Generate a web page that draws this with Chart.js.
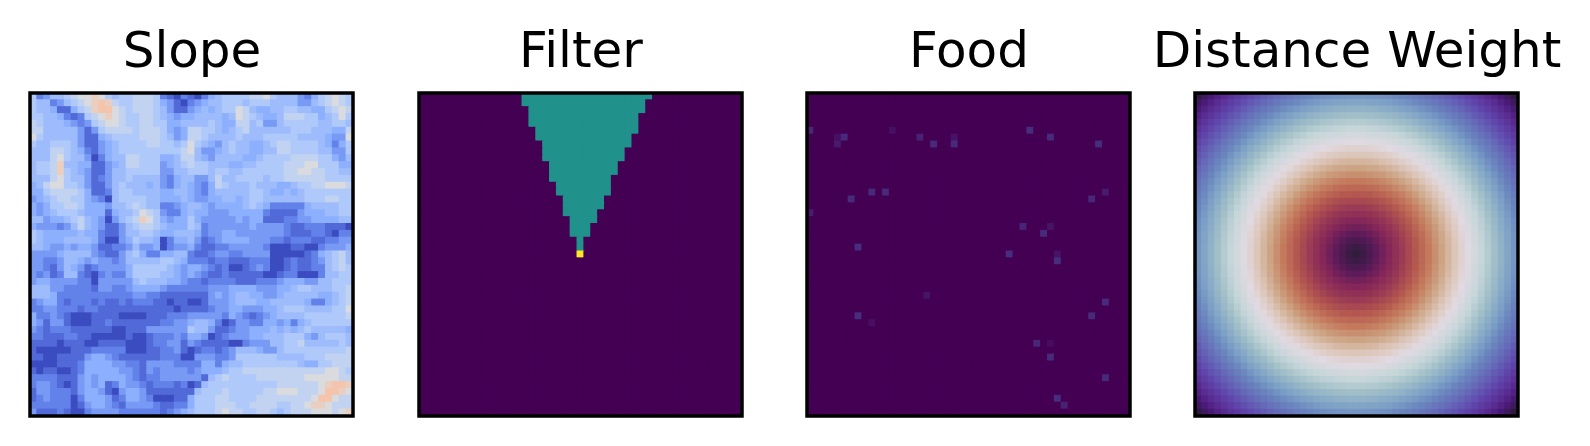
<!DOCTYPE html>
<html>
<head>
<meta charset="utf-8">
<style>
    html, body { margin: 0; padding: 0; background: #fff; overflow: hidden; width: 1590px; height: 446px; }
    .panel { position: absolute; top: 0; width: 420px; height: 446px; }
</style>
<script src="https://cdn.jsdelivr.net/npm/chart.js@4/dist/chart.umd.js"></script>
</head>
<body>
<div class="panel" style="left:-18px"><canvas id="chartSlope"></canvas></div>
<div class="panel" style="left:371px"><canvas id="chartFilter"></canvas></div>
<div class="panel" style="left:759px"><canvas id="chartFood"></canvas></div>
<div class="panel" style="left:1147px"><canvas id="chartDistance"></canvas></div>
<script>
const titles = ['Slope', 'Filter', 'Food', 'Distance Weight'];

// slope shading, 47 rows x 47 columns, hex index into slopeLevels
const slopeRows = [
    '62355 67889 86566 77762 102 10245 66667 78655 53246 7876',
    '65523 56789 a9766 77764 310 23455 66656 66555 53356 7876',
    '65541 14679 aa876 77765 311 34545 66875 44556 65544 6787',
    '66554 21267 89876 67765 434 45555 45876 54457 77664 5686',
    '76555 43236 78876 67766 445 55565 44775 63356 66665 5665',
    '77555 55313 67777 67776 434 77665 45675 55555 66655 5447',
    '86555 55311 45666 67776 534 77655 55655 56666 65555 4338',
    '65566 65311 34566 66776 656 86543 56554 45677 66665 4246',
    '55577 65421 34566 66666 667 85334 56554 45577 66665 5336',
    '55578 65530 24557 76664 457 75435 55544 56666 77776 6435',
    '56679 55441 13457 76663 456 76655 54455 66667 77886 6644',
    '56679 65431 13556 66663 355 66656 65566 66667 78877 6655',
    '55578 65531 23556 55553 245 53357 55666 65667 77777 6666',
    '45788 66531 13565 55453 245 43247 65556 55544 56677 8887',
    '44677 77641 12566 55554 455 43245 55556 65445 45666 6666',
    '34567 76643 20566 66554 445 43344 55456 65555 55666 7766',
    '43466 77644 43556 76552 234 55434 44456 54222 22455 5566',
    '43456 66544 41455 68763 224 54433 34444 42111 13444 5566',
    '55344 56754 30356 79864 344 64333 33434 41112 23344 4455',
    '43332 35754 31135 67765 444 65233 33334 33332 11222 1110',
    '65444 44544 21135 56654 455 54233 44333 33332 11122 1022',
    '65444 55554 20034 65540 244 53123 44443 33221 22211 2233',
    '55433 43443 11223 53340 233 42112 23333 32000 11002 3334',
    '33334 55553 21135 64224 455 21123 32233 33000 00124 5675',
    '33223 55434 33235 55556 654 22212 21112 22001 21123 5675',
    '33213 54312 33334 66666 543 44321 20012 32001 21122 5676',
    '32312 55210 23224 66665 543 43211 21111 10012 20002 5566',
    '34433 33220 33333 56555 443 22122 22111 22234 44335 5666',
    '55533 22221 33223 44443 222 22233 34444 33344 56655 5667',
    '55542 22222 22222 33221 111 11134 34554 43345 55554 4567',
    '23442 12221 21121 22211 011 00133 34555 44555 55422 4567',
    '22332 22122 11111 11111 101 11123 34433 34456 66555 5668',
    '42232 10001 11100 00111 222 33333 24321 23455 55666 6667',
    '43133 10001 12111 11112 233 45542 01332 24434 24566 6666',
    '32122 21111 11001 11333 333 65531 12334 44545 45655 5554',
    '22111 22110 00001 00122 232 44301 23334 45556 66435 6665',
    '11110 11100 11110 00122 331 32111 10023 33556 67555 5565',
    '10000 01112 22220 00112 231 01221 23555 43356 66666 6667',
    '11001 11134 43211 11112 220 03332 23666 66655 55666 7777',
    '00001 11244 44332 21333 322 22442 45566 66666 65446 6777',
    '10110 01244 44433 21323 333 23444 56677 77777 77777 8876',
    '22221 11343 44443 21223 333 33156 76666 77777 77888 8877',
    '23321 01343 41243 32122 212 01566 66666 66677 77778 9aa9',
    '13322 21344 31034 43111 111 15666 76666 67788 87778 aa98',
    '12322 20244 43124 43200 011 46667 76666 77777 7778a a877',
    '22222 20134 43213 33321 122 46667 77667 77766 77899 8777',
    '31112 10023 33322 22221 234 56667 87766 77656 77788 8789'
];
const slopeLevels = [0, 0.07, 0.125, 0.19, 0.25, 0.3, 0.35, 0.41, 0.49, 0.57, 0.625];

// view cone: first and one-past-last lit column of each row from the top
const filterStart = [15, 15, 16, 16, 16, 17, 17, 18, 18, 18, 19, 19, 19, 20, 20, 21, 21, 21, 22, 22, 22, 23, 23];
const filterEnd = [34, 33, 33, 32, 32, 32, 31, 31, 30, 30, 29, 29, 28, 28, 28, 27, 27, 26, 26, 25, 25, 24, 24];
const agentCol = 23;
const agentRow = 23;

// food cells that differ from the background
const foodCols = [0, 4, 5, 4, 12, 16, 18, 21, 21, 9, 11, 6, 0, 7, 32, 35, 42, 43, 41, 31, 35, 34, 29, 36, 36, 43, 41, 33, 35, 35, 43, 36, 37, 17, 7, 9];
const foodRows = [5, 6, 6, 7, 5, 6, 7, 6, 7, 14, 14, 15, 17, 22, 5, 6, 7, 14, 15, 19, 19, 20, 23, 23, 24, 30, 32, 36, 36, 38, 41, 44, 45, 29, 32, 33];
const foodValues = [0.11, 0.04, 0.12, 0.07, 0.04, 0.09, 0.12, 0.05, 0.12, 0.12, 0.12, 0.12, 0.08, 0.13, 0.13, 0.12, 0.13, 0.07, 0.11, 0.1, 0.05, 0.12, 0.13, 0.05, 0.13, 0.12, 0.12, 0.11, 0.03, 0.12, 0.12, 0.13, 0.09, 0.05, 0.13, 0.04];
const foodSize = 47;

// distance weight levels, one quarter of the square from the centre out
const distanceQuarter = [
    [0, 1, 2, 3, 4, 5, 6, 7, 8, 9, 10, 11, 12, 13, 14, 15, 16, 17, 18, 19, 20, 21, 22, 23, 24],
    [1, 1.4, 2.2, 3.2, 4.1, 5.1, 6.1, 7.1, 8.1, 9.1, 10, 11, 12, 13, 14, 15, 16, 17, 18, 19, 20, 21, 22, 23, 24],
    [2, 2.2, 2.8, 3.6, 4.5, 5.4, 6.3, 7.3, 8.2, 9.2, 10.2, 11.2, 12.2, 13.2, 14.1, 15.1, 16.1, 17.1, 18.1, 19.1, 20.1, 21.1, 22.1, 23.1, 24.1],
    [3, 3.2, 3.6, 4.2, 5, 5.8, 6.7, 7.6, 8.5, 9.5, 10.4, 11.4, 12.4, 13.3, 14.3, 15.3, 16.3, 17.3, 18.2, 19.2, 20.2, 21.2, 22.2, 23.2, 24.2],
    [4, 4.1, 4.5, 5, 5.7, 6.4, 7.2, 8.1, 8.9, 9.8, 10.8, 11.7, 12.6, 13.6, 14.6, 15.5, 16.5, 17.5, 18.4, 19.4, 20.4, 21.4, 22.4, 23.3, 24.3],
    [5, 5.1, 5.4, 5.8, 6.4, 7.1, 7.8, 8.6, 9.4, 10.3, 11.2, 12.1, 13, 13.9, 14.9, 15.8, 16.8, 17.7, 18.7, 19.6, 20.6, 21.6, 22.6, 23.5, 24.5],
    [6, 6.1, 6.3, 6.7, 7.2, 7.8, 8.5, 9.2, 10, 10.8, 11.7, 12.5, 13.4, 14.3, 15.2, 16.2, 17.1, 18, 19, 19.9, 20.9, 21.8, 22.8, 23.8, 24.7],
    [7, 7.1, 7.3, 7.6, 8.1, 8.6, 9.2, 9.9, 10.6, 11.4, 12.2, 13, 13.9, 14.8, 15.7, 16.6, 17.5, 18.4, 19.3, 20.2, 21.2, 22.1, 23.1, 24, 25],
    [8, 8.1, 8.2, 8.5, 8.9, 9.4, 10, 10.6, 11.3, 12, 12.8, 13.6, 14.4, 15.3, 16.1, 17, 17.9, 18.8, 19.7, 20.6, 21.5, 22.5, 23.4, 24.4, 25.3],
    [9, 9.1, 9.2, 9.5, 9.8, 10.3, 10.8, 11.4, 12, 12.7, 13.5, 14.2, 15, 15.8, 16.6, 17.5, 18.4, 19.2, 20.1, 21, 21.9, 22.8, 23.8, 24.7, 25.6],
    [10, 10, 10.2, 10.4, 10.8, 11.2, 11.7, 12.2, 12.8, 13.5, 14.1, 14.9, 15.6, 16.4, 17.2, 18, 18.9, 19.7, 20.6, 21.5, 22.4, 23.3, 24.2, 25.1, 26],
    [11, 11, 11.2, 11.4, 11.7, 12.1, 12.5, 13, 13.6, 14.2, 14.9, 15.6, 16.3, 17, 17.8, 18.6, 19.4, 20.2, 21.1, 22, 22.8, 23.7, 24.6, 25.5, 26.4],
    [12, 12, 12.2, 12.4, 12.6, 13, 13.4, 13.9, 14.4, 15, 15.6, 16.3, 17, 17.7, 18.4, 19.2, 20, 20.8, 21.6, 22.5, 23.3, 24.2, 25.1, 26, 26.8],
    [13, 13, 13.2, 13.3, 13.6, 13.9, 14.3, 14.8, 15.3, 15.8, 16.4, 17, 17.7, 18.4, 19.1, 19.8, 20.6, 21.4, 22.2, 23, 23.9, 24.7, 25.6, 26.4, 27.3],
    [14, 14, 14.1, 14.3, 14.6, 14.9, 15.2, 15.7, 16.1, 16.6, 17.2, 17.8, 18.4, 19.1, 19.8, 20.5, 21.3, 22, 22.8, 23.6, 24.4, 25.2, 26.1, 26.9, 27.8],
    [15, 15, 15.1, 15.3, 15.5, 15.8, 16.2, 16.6, 17, 17.5, 18, 18.6, 19.2, 19.8, 20.5, 21.2, 21.9, 22.7, 23.4, 24.2, 25, 25.8, 26.6, 27.5, 28.3],
    [16, 16, 16.1, 16.3, 16.5, 16.8, 17.1, 17.5, 17.9, 18.4, 18.9, 19.4, 20, 20.6, 21.3, 21.9, 22.6, 23.3, 24.1, 24.8, 25.6, 26.4, 27.2, 28, 28.8],
    [17, 17, 17.1, 17.3, 17.5, 17.7, 18, 18.4, 18.8, 19.2, 19.7, 20.2, 20.8, 21.4, 22, 22.7, 23.3, 24, 24.8, 25.5, 26.2, 27, 27.8, 28.6, 29.4],
    [18, 18, 18.1, 18.2, 18.4, 18.7, 19, 19.3, 19.7, 20.1, 20.6, 21.1, 21.6, 22.2, 22.8, 23.4, 24.1, 24.8, 25.5, 26.2, 26.9, 27.7, 28.4, 29.2, 30],
    [19, 19, 19.1, 19.2, 19.4, 19.6, 19.9, 20.2, 20.6, 21, 21.5, 22, 22.5, 23, 23.6, 24.2, 24.8, 25.5, 26.2, 26.9, 27.6, 28.3, 29.1, 29.8, 30.6],
    [20, 20, 20.1, 20.2, 20.4, 20.6, 20.9, 21.2, 21.5, 21.9, 22.4, 22.8, 23.3, 23.9, 24.4, 25, 25.6, 26.2, 26.9, 27.6, 28.3, 29, 29.7, 30.5, 31.2],
    [21, 21, 21.1, 21.2, 21.4, 21.6, 21.8, 22.1, 22.5, 22.8, 23.3, 23.7, 24.2, 24.7, 25.2, 25.8, 26.4, 27, 27.7, 28.3, 29, 29.7, 30.4, 31.1, 31.9],
    [22, 22, 22.1, 22.2, 22.4, 22.6, 22.8, 23.1, 23.4, 23.8, 24.2, 24.6, 25.1, 25.6, 26.1, 26.6, 27.2, 27.8, 28.4, 29.1, 29.7, 30.4, 31.1, 31.8, 32.6],
    [23, 23, 23.1, 23.2, 23.3, 23.5, 23.8, 24, 24.4, 24.7, 25.1, 25.5, 26, 26.4, 26.9, 27.5, 28, 28.6, 29.2, 29.8, 30.5, 31.1, 31.8, 32.5, 33.2],
    [24, 24, 24.1, 24.2, 24.3, 24.5, 24.7, 25, 25.3, 25.6, 26, 26.4, 26.8, 27.3, 27.8, 28.3, 28.8, 29.4, 30, 30.6, 31.2, 31.9, 32.6, 33.2, 33.9]
];

const coolwarmStops = [[0, '#3b4cc0'], [0.125, '#6282ea'], [0.25, '#8db0fe'], [0.375, '#b7cff9'], [0.5, '#dddcdc'], [0.625, '#f5c4ac']];
const viridisStops = [[0, '#440154'], [0.05, '#471365'], [0.1, '#482475'], [0.15, '#463480'], [0.5, '#21918c'], [1, '#fde725']];
const twilightStops = [
    [0, '#2e1e3c'], [1, '#3a1b45'], [3, '#5c1a5a'], [5, '#842659'], [7, '#9a3a55'], [9, '#b3564f'],
    [11, '#c4795c'], [13, '#cca383'], [15, '#dcc6b9'], [16.8, '#e2dae2'], [19, '#c6d6d9'], [21, '#a1bfc8'],
    [23.5, '#7b9fc6'], [25, '#6a85be'], [27, '#6568b8'], [29, '#6047ac'], [31, '#5a2d94'], [32.5, '#4b1a78'], [34, '#2c1a3a']
];

function hexToRgb(hex) {
    return [1, 3, 5].map(i => parseInt(hex.substr(i, 2), 16));
}

function colorAt(stops, v) {
    for (let i = 1; i < stops.length; i++) {
        if (v <= stops[i][0]) {
            const a = hexToRgb(stops[i - 1][1]);
            const b = hexToRgb(stops[i][1]);
            const k = (v - stops[i - 1][0]) / (stops[i][0] - stops[i - 1][0]);
            return 'rgb(' + a.map((c, n) => Math.round(c + (b[n] - c) * k)).join(',') + ')';
        }
    }
    return stops[stops.length - 1][1];
}

function slopeCells() {
    const cells = [];
    slopeRows.forEach((row, r) => {
        row.replace(/ /g, '').split('').forEach((ch, c) => {
            cells.push({ x: c + 0.5, y: r + 0.5, v: slopeLevels[parseInt(ch, 16)] });
        });
    });
    return cells;
}

function filterCells() {
    const cells = [];
    for (let r = 0; r < foodSize; r++) {
        for (let c = 0; c < foodSize; c++) {
            let v = 0;
            if (r < filterStart.length && c >= filterStart[r] && c < filterEnd[r]) v = 0.5;
            if (r === agentRow && c === agentCol) v = 1;
            cells.push({ x: c + 0.5, y: r + 0.5, v: v });
        }
    }
    return cells;
}

function foodCells() {
    const cells = [];
    for (let r = 0; r < foodSize; r++) {
        for (let c = 0; c < foodSize; c++) {
            cells.push({ x: c + 0.5, y: r + 0.5, v: 0 });
        }
    }
    foodCols.forEach((c, i) => {
        cells[foodRows[i] * foodSize + c].v = foodValues[i];
    });
    return cells;
}

function distanceCells() {
    const cells = [];
    const half = distanceQuarter.length - 1;
    for (let r = -half; r <= half; r++) {
        for (let c = -half; c <= half; c++) {
            cells.push({ x: c + half + 0.5, y: r + half + 0.5, v: distanceQuarter[Math.abs(r)][Math.abs(c)] });
        }
    }
    return cells;
}

const frame = {
    id: 'frame',
    afterDraw(chart) {
        const a = chart.chartArea;
        const ctx = chart.ctx;
        ctx.save();
        ctx.strokeStyle = '#000';
        ctx.lineWidth = 3.5;
        ctx.strokeRect(a.left, a.top, a.right - a.left, a.bottom - a.top);
        ctx.restore();
    }
};

// empty axis that only keeps room round the plot, the title needs the full canvas width
function spacerAxis(position, room, extra) {
    return Object.assign({
        type: 'linear',
        position: position,
        grid: { display: false },
        border: { display: false },
        ticks: { display: false },
        afterFit: scale => {
            if (scale.isHorizontal()) scale.height = room;
            else scale.width = room;
        }
    }, extra);
}

function drawPanel(id, title, cells, stops, size) {
    const cellPx = 323 / size;
    new Chart(document.getElementById(id), {
        type: 'scatter',
        data: {
            datasets: [{
                data: cells,
                pointStyle: 'rect',
                pointRadius: (cellPx / 2 + 0.55) * Math.SQRT2,
                pointBorderWidth: 0,
                pointBackgroundColor: ctx => colorAt(stops, ctx.raw.v)
            }]
        },
        options: {
            responsive: true,
            maintainAspectRatio: false,
            animation: false,
            events: [],
            plugins: {
                legend: { display: false },
                tooltip: { enabled: false },
                title: {
                    display: true,
                    text: title,
                    color: '#000',
                    font: { family: 'DejaVu Sans', size: 50, weight: 'normal', lineHeight: 1.2 },
                    padding: { top: 24.3, bottom: 8.7 }
                }
            },
            scales: {
                x: spacerAxis('bottom', 30, { min: 0, max: size }),
                y: spacerAxis('left', 48, { min: 0, max: size, reverse: true }),
                yRoom: spacerAxis('right', 49, { min: 0, max: size })
            }
        },
        plugins: [frame]
    });
}

drawPanel('chartSlope', titles[0], slopeCells(), coolwarmStops, foodSize);
drawPanel('chartFilter', titles[1], filterCells(), viridisStops, foodSize);
drawPanel('chartFood', titles[2], foodCells(), viridisStops, foodSize);
drawPanel('chartDistance', titles[3], distanceCells(), twilightStops, distanceQuarter.length * 2 - 1);
</script>
</body>
</html>
